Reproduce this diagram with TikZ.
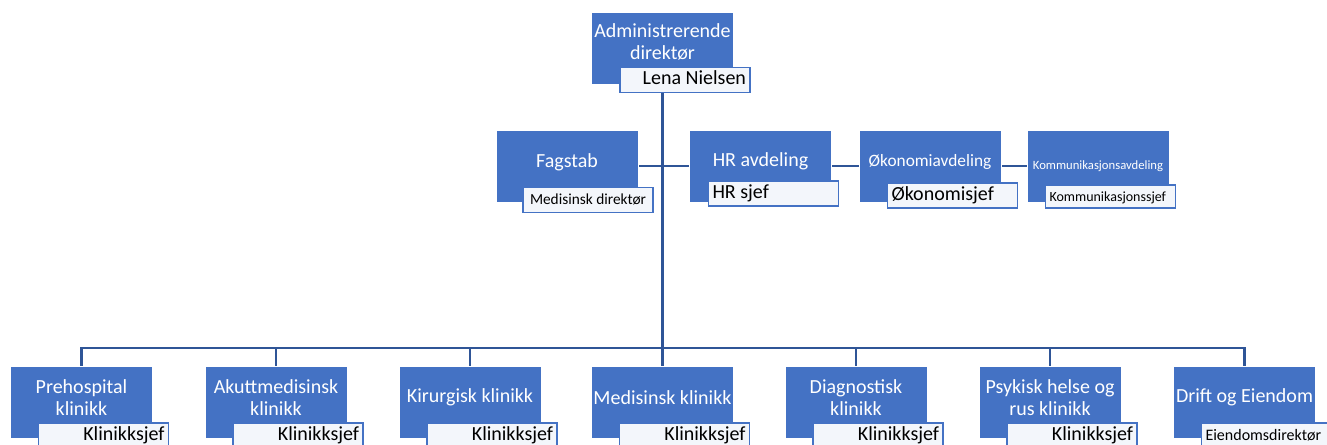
\documentclass[tikz,border=0pt]{standalone}
\usepackage{fontspec}
\setmainfont{Carlito}
\usetikzlibrary{backgrounds}

\definecolor{unitblue}{HTML}{4472C4}
\definecolor{linkblue}{HTML}{2F5597}
\definecolor{headfill}{HTML}{F3F6FB}

\tikzset{
	unit/.style={rectangle, fill=unitblue, draw=white, line width=0.5pt, minimum width=106.5pt, minimum height=54pt, inner sep=0pt},
	unittext/.style={text=white, align=center, inner sep=0pt, font=\fontsize{15}{16.5}\selectfont},
	head/.style={rectangle, fill=headfill, draw=unitblue, line width=1.2pt, minimum height=18.75pt, inner xsep=3pt, inner ysep=0pt, text width=91.5pt, text height=10.5pt, text depth=3pt, font=\fontsize{15}{16}\selectfont},
	link/.style={draw=linkblue, line width=1.8pt}
}

\begin{document}
\begin{tikzpicture}[x=0.75pt, y=-0.75pt]
	\useasboundingbox (0,0) rectangle (1327,445);

	% Top: director
	\node[unit] (admin) at (662.5,48.5) {};
	\node[unittext] (admin-txt) at (662.5,42) {Administrerende\\direktør};
	\node[head, align=flush right] (admin-head) at (685,80) {Lena Nielsen};

	% Staff row
	\node[unit] (fagstab) at (567,166) {};
	\node[unittext] (fagstab-txt) at (567,162) {Fagstab};
	\node[head, align=flush center, font=\fontsize{11.5}{12}\selectfont] (fagstab-head) at (588,200) {Medisinsk direktør};

	\node[unit] (hr) at (760.5,166) {};
	\node[unittext] (hr-txt) at (760.5,161) {HR avdeling};
	\node[head, align=flush left] (hr-head) at (773.5,193.5) {HR sjef};

	\node[unit] (okonomi) at (930,166) {};
	\node[unittext, font=\fontsize{13}{14}\selectfont] (okonomi-txt) at (930,162) {Økonomiavdeling};
	\node[head, align=flush left] (okonomi-head) at (952.5,195.5) {Økonomisjef};

	\node[unit] (komm) at (1098,166) {};
	\node[unittext, font=\fontsize{9.5}{10}\selectfont] (komm-txt) at (1098,166) {Kommunikasjonsavdeling};
	\node[head, align=flush left, minimum height=17.25pt, font=\fontsize{10.5}{11}\selectfont] (komm-head) at (1110.5,196.5) {Kommunikasjonssjef};

	% Clinics
	\node[unit] (prehosp) at (81.5,402.5) {};
	\node[unittext] (prehosp-txt) at (81.5,397.5) {Prehospital\\klinikk};
	\node[head, align=flush right] (prehosp-head) at (103.5,435.5) {Klinikksjef};

	\node[unit] (akutt) at (276,402.5) {};
	\node[unittext] (akutt-txt) at (276,397.5) {Akuttmedisinsk\\klinikk};
	\node[head, align=flush right] (akutt-head) at (298,435.5) {Klinikksjef};

	\node[unit] (kirurg) at (470,402.5) {};
	\node[unittext] (kirurg-txt) at (470,397.5) {Kirurgisk klinikk};
	\node[head, align=flush right] (kirurg-head) at (492,435.5) {Klinikksjef};

	\node[unit] (medisin) at (662.5,402.5) {};
	\node[unittext] (medisin-txt) at (662.5,397.5) {Medisinsk klinikk};
	\node[head, align=flush right] (medisin-head) at (684.5,435.5) {Klinikksjef};

	\node[unit] (diagnost) at (856,402.5) {};
	\node[unittext] (diagnost-txt) at (856,397.5) {Diagnostisk\\klinikk};
	\node[head, align=flush right] (diagnost-head) at (878,435.5) {Klinikksjef};

	\node[unit] (psykisk) at (1050,402.5) {};
	\node[unittext] (psykisk-txt) at (1050,397.5) {Psykisk helse og\\rus klinikk};
	\node[head, align=flush right] (psykisk-head) at (1072,435.5) {Klinikksjef};

	\node[unit] (drift) at (1244.5,402.5) {};
	\node[unittext] (drift-txt) at (1244.5,397.5) {Drift og Eiendom};
	\node[head, align=flush left, font=\fontsize{12}{13}\selectfont] (drift-head) at (1266.5,435.5) {Eiendomsdirektør};

	% Connectors
	\begin{pgfonlayer}{background}
		\coordinate (bus) at (admin |- 0,348);
		\draw[link] (admin) -- (bus);
		\draw[link] (fagstab) -- (hr);
		\draw[link] (hr) -- (okonomi);
		\draw[link] (okonomi) -- (komm);
		\foreach \n in {prehosp,akutt,kirurg,medisin,diagnost,psykisk,drift}
			\draw[link] (bus) -| (\n);
	\end{pgfonlayer}

\end{tikzpicture}
\end{document}
